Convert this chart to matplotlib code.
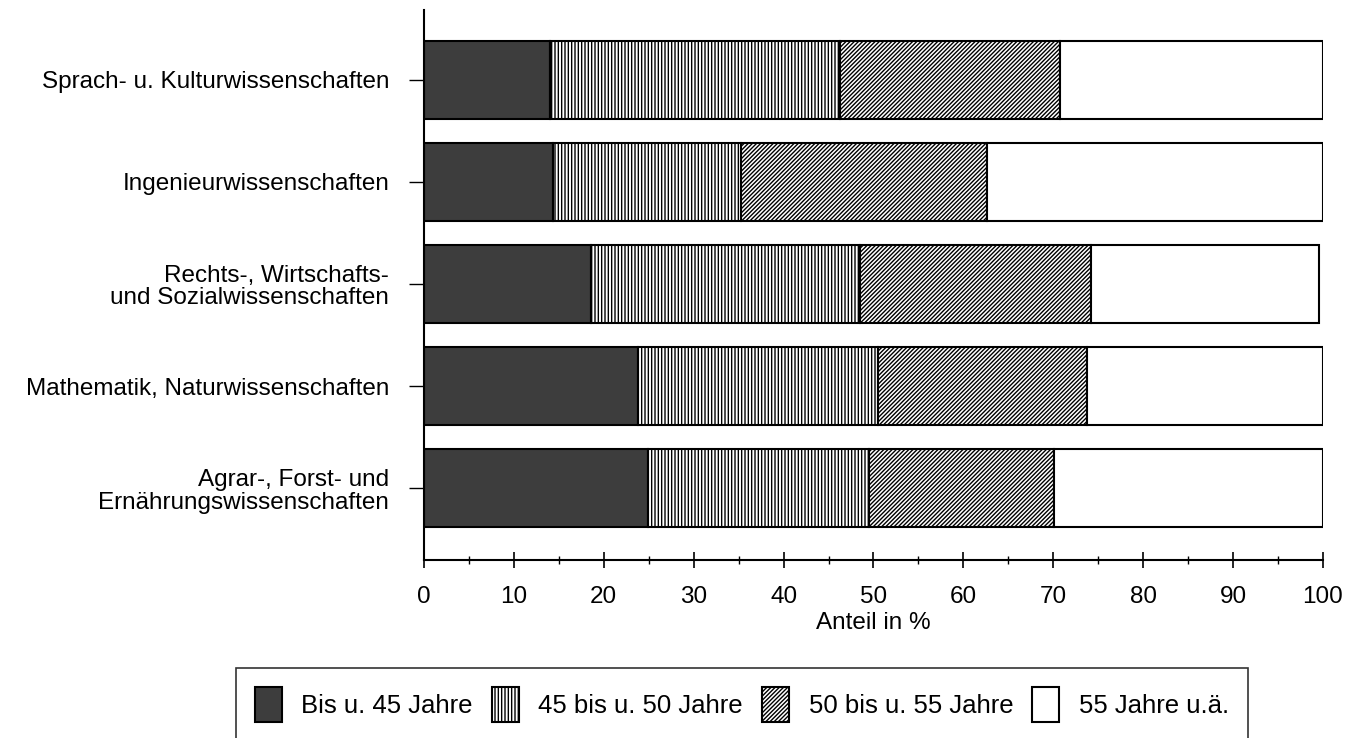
import numpy as np
import matplotlib.pyplot as plt
from matplotlib.ticker import MultipleLocator

plt.rcParams['font.family'] = ['Liberation Sans', 'DejaVu Sans']
plt.rcParams['hatch.linewidth'] = 1.0

categories = ['Sprach- u. Kulturwissenschaften',
              'Ingenieurwissenschaften',
              'Rechts-, Wirtschafts-\nund Sozialwissenschaften',
              'Mathematik, Naturwissenschaften',
              'Agrar-, Forst- und\nErnährungswissenschaften']

bis45 = [14.0, 14.4, 18.6, 23.8, 24.9]
bis50 = [32.3, 20.9, 29.9, 26.7, 24.6]
bis55 = [24.4, 27.3, 25.7, 23.2, 20.6]
ab55 = [29.3, 37.4, 25.4, 26.3, 29.9]

series_labels = ['Bis u. 45 Jahre', '45 bis u. 50 Jahre', '50 bis u. 55 Jahre', '55 Jahre u.ä.']

fig = plt.figure(figsize=(13.59, 7.38), dpi=100)
ax = fig.add_axes([0.312, 0.2415, 0.6615, 0.7445])

y = np.arange(len(categories))
styles = [dict(color='#3d3d3d', hatch=None),
          dict(color='white', hatch='|||||'),
          dict(color='white', hatch='////////'),
          dict(color='white', hatch=None)]

left = np.zeros(len(categories))
for vals, lab, st in zip([bis45, bis50, bis55, ab55], series_labels, styles):
    ax.barh(y, vals, left=left, height=0.76, facecolor=st['color'],
            edgecolor='black', linewidth=1.5, hatch=st['hatch'], label=lab)
    left = left + np.array(vals)

ax.set_ylim(4.7, -0.68)
ax.set_xlim(0, 100)
ax.set_yticks(y)
ax.set_yticklabels(categories, fontsize=17.5, linespacing=1.05)
ax.xaxis.set_major_locator(MultipleLocator(10))
ax.xaxis.set_minor_locator(MultipleLocator(5))
ax.tick_params(axis='x', which='major', direction='inout', length=12, width=1.2, labelsize=17.5, pad=13)
ax.tick_params(axis='x', which='minor', direction='inout', length=6, width=1.0)
ax.tick_params(axis='y', length=11, width=1.0, pad=14)
ax.set_xlabel('Anteil in %', fontsize=17.5, labelpad=3)

for s in ['top', 'right']:
    ax.spines[s].set_visible(False)
for s in ['left', 'bottom']:
    ax.spines[s].set_linewidth(1.5)

# legend box runs off the bottom edge like in the scan
handles, labels = ax.get_legend_handles_labels()
leg = fig.legend(handles, labels, loc='upper center', bbox_to_anchor=(0.546, 0.095),
                 ncol=4, fontsize=18.5, frameon=True, fancybox=False,
                 edgecolor='black', handlelength=1.05, handleheight=1.7,
                 handletextpad=0.75, columnspacing=0.75, borderpad=0.75,
                 borderaxespad=0)
leg.get_frame().set_linewidth(1.2)

fig.savefig('out.png', dpi=100)
